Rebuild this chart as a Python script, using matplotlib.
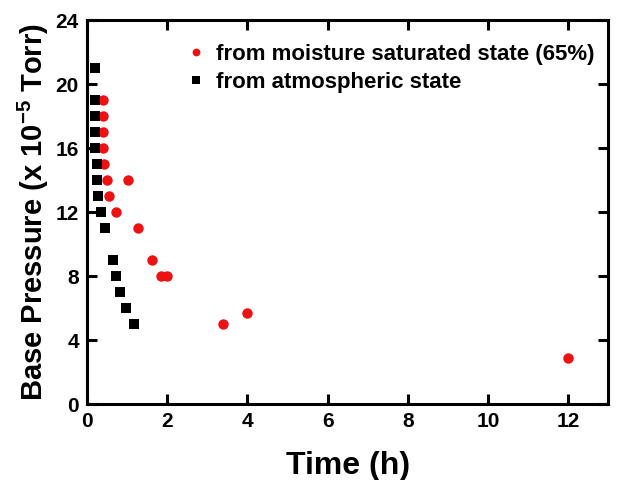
import matplotlib
matplotlib.use("Agg")
import matplotlib.pyplot as plt

plt.rcParams['font.family'] = ['Liberation Sans', 'DejaVu Sans']
plt.rcParams['font.weight'] = 'bold'
plt.rcParams['mathtext.fontset'] = 'custom'
plt.rcParams['mathtext.bf'] = 'Liberation Sans:bold'
plt.rcParams['mathtext.rm'] = 'Liberation Sans:bold'

# moisture saturated state (65%)
t_moist = [0.4, 0.4, 0.4, 0.4, 0.42, 0.5, 1.02, 0.55, 0.72, 1.27, 1.62, 1.85, 2.0, 3.38, 4.0, 12.0]
p_moist = [19, 18, 17, 16, 15, 14, 14, 13, 12, 11, 9, 8, 8, 5, 5.7, 2.9]

# atmospheric state
t_atm = [0.2, 0.2, 0.2, 0.2, 0.2, 0.25, 0.25, 0.28, 0.35, 0.45, 0.65, 0.72, 0.82, 0.97, 1.17]
p_atm = [21, 19, 18, 17, 16, 15, 14, 13, 12, 11, 9, 8, 7, 6, 5]

xticks = [0, 2, 4, 6, 8, 10, 12]
yticks = [0, 4, 8, 12, 16, 20, 24]

fig = plt.figure(figsize=(6.18, 4.8), dpi=100)
ax = fig.add_axes([0.141, 0.158, 0.843, 0.8])

ax.plot(t_moist, p_moist, 'o', color='#ee1111', markersize=7.5, markeredgewidth=0,
        label='from moisture saturated state (65%)')
ax.plot(t_atm, p_atm, 's', color='black', markersize=7, markeredgewidth=0,
        label='from atmospheric state')

ax.set_xlim(0, 13)
ax.set_ylim(0, 24)
ax.set_xticks(xticks)
ax.set_yticks(yticks)
ax.tick_params(direction='in', length=7, width=2.2, labelsize=15,
               top=True, right=True, pad=6)
for lab in ax.get_xticklabels() + ax.get_yticklabels():
    lab.set_fontweight('bold')
for sp in ax.spines.values():
    sp.set_linewidth(2.2)

ax.set_xlabel('Time (h)', fontsize=23, fontweight='bold', labelpad=14)
ax.set_ylabel(r'Base Pressure (x 10$^{\mathrm{-5}}$ Torr)', fontsize=21, fontweight='bold', labelpad=3)

leg = ax.legend(loc='upper left', bbox_to_anchor=(0.15, 0.99), frameon=False,
                fontsize=16, handletextpad=0.4, markerscale=0.75, labelspacing=0.3,
                handlelength=1.0)
for txt in leg.get_texts():
    txt.set_fontweight('bold')

fig.savefig('out.png', dpi=100)
